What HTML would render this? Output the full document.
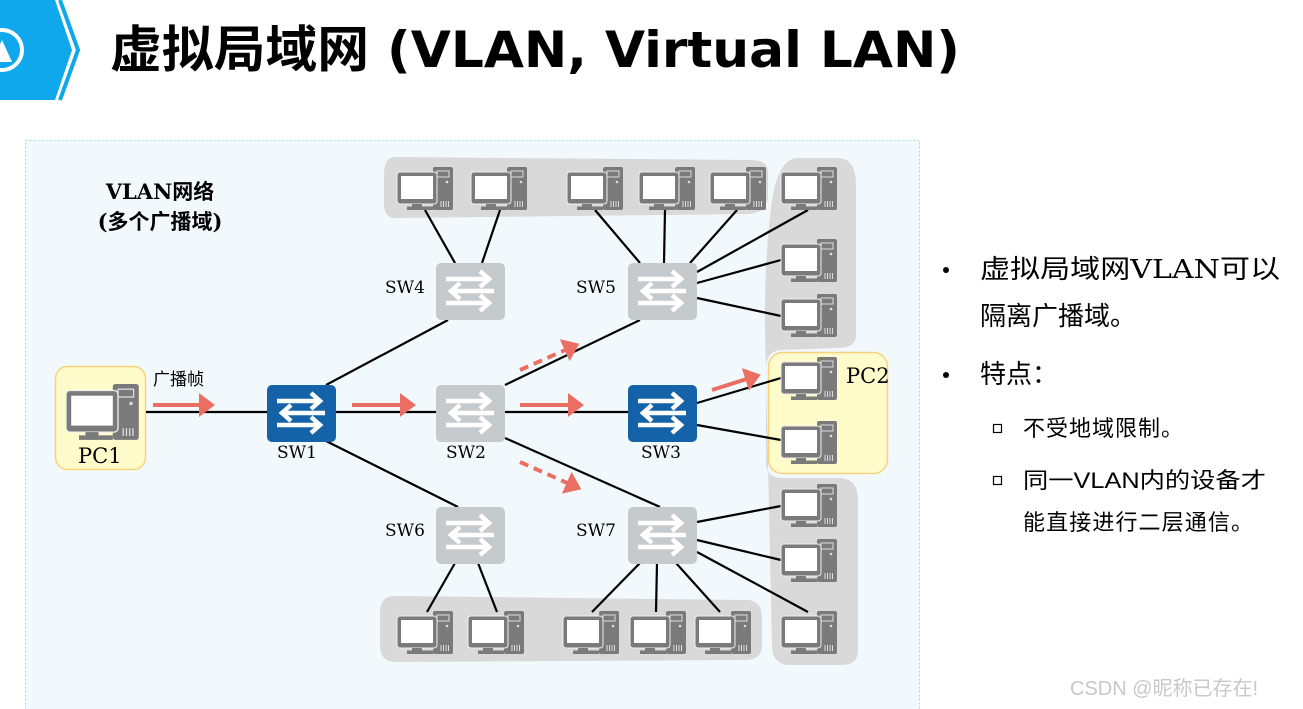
<!DOCTYPE html>
<html><head><meta charset="utf-8"><style>
html,body{margin:0;padding:0;background:#fff;width:1303px;height:709px;overflow:hidden}
svg{display:block}
</style></head><body>
<svg width="1303" height="709" viewBox="0 0 1303 709" xmlns="http://www.w3.org/2000/svg">
<defs>
<g id="pc">
<rect x="36" y="0" width="20" height="43" rx="2" fill="#7a7a7a"/>
<rect x="40" y="4" width="12" height="6" fill="none" stroke="#ddd" stroke-width="1"/>
<circle cx="50" cy="15" r="1.3" fill="#ddd"/>
<path d="M44 34v6M46.5 34v6M49 34v6M51.5 34v6" stroke="#ddd" stroke-width="1"/>
<rect x="0" y="5" width="40" height="32" rx="3" fill="#7a7a7a" stroke="#eee" stroke-width="1"/>
<rect x="4" y="9" width="32" height="23" fill="#fff"/>
<rect x="15" y="37" width="10" height="3" fill="#7a7a7a"/>
<rect x="10" y="39.5" width="26" height="3.5" fill="#7a7a7a"/>
</g>
<g id="arr" fill="none" stroke="#fff" stroke-width="4.5">
<path d="M10 16H52M44 8L53 16L44 24"/>
<path d="M58 28H16M24 20L15 28L24 36"/>
<path d="M10 40H52M44 32L53 40L44 48"/>
</g>
<g id="swg"><rect width="69" height="57" rx="5" fill="#c6cacd"/><use href="#arr"/></g>
<g id="swb"><rect width="69" height="57" rx="5" fill="#1462a8"/><use href="#arr"/></g>
<marker id="ah" markerWidth="6" markerHeight="6" refX="2" refY="3" orient="auto" markerUnits="strokeWidth"><path d="M0 0L4 3L0 6z" fill="#ea6f62"/></marker>
</defs>

<!-- header icon -->
<polygon points="0,0 55,0 72,50 55,100 0,100" fill="#10a8ec"/>
<polyline points="60,0 78,50 60,100" fill="none" stroke="#10a8ec" stroke-width="4"/>
<circle cx="2" cy="50" r="20" fill="none" stroke="#fff" stroke-width="4"/>
<polygon points="2,40 12,62 -8,62" fill="#fff"/>
<text x="110" y="67" textLength="850" lengthAdjust="spacingAndGlyphs" font-family="'DejaVu Sans','Noto Sans CJK SC',sans-serif" font-weight="bold" font-size="50" fill="#000">虚拟局域网 (VLAN, Virtual LAN)</text>

<!-- panel -->
<rect x="25.5" y="140.5" width="894" height="580" fill="#f2f9fd" stroke="#9fd7ee" stroke-dasharray="2,2"/>
<text x="160" y="199" text-anchor="middle" font-family="'DejaVu Serif','Noto Sans CJK SC',serif" font-weight="bold" font-size="21">VLAN网络</text>
<text x="160" y="229" text-anchor="middle" font-family="'DejaVu Serif','Noto Sans CJK SC',serif" font-weight="bold" font-size="21">(多个广播域)</text>

<!-- gray groups -->
<path d="M395 157 Q384 157 384 175 L384 205 Q384 220 400 218 L750 214 Q768 212 768 195 L768 172 Q768 160 750 160 Z" fill="#d9d9d9"/>
<path d="M795 158 L840 158 Q856 160 856 185 L856 335 Q856 348 838 348 L780 350 Q766 352 766 368 L766 462 Q766 478 782 478 L842 478 Q858 480 858 500 L858 650 Q858 665 842 665 L790 665 Q772 665 772 645 L765 330 Q764 260 772 200 Q778 162 795 158 Z" fill="#d9d9d9"/>
<path d="M395 596 L748 600 Q762 601 762 618 L762 645 Q762 660 745 660 L395 662 Q380 662 380 645 L380 612 Q380 596 395 596 Z" fill="#d9d9d9"/>

<!-- yellow boxes -->
<rect x="55.5" y="366.5" width="90" height="103" rx="12" fill="#fffbcb" stroke="#fbd17c" stroke-width="1.5"/>
<rect x="768.5" y="352.5" width="119" height="121" rx="14" fill="#fffbcb" stroke="#fbd17c" stroke-width="1.5"/>

<!-- connections -->
<g stroke="#000" stroke-width="2.2" fill="none">
<path d="M146 412H267M336 412H436M505 412H628"/>
<path d="M326 385L448 320M505 385L640 320M326 441L458 507M505 438L660 507"/>
<path d="M697 403L781 378M697 425L781 440"/>
<path d="M425 210L455 263M500 210L482 263"/>
<path d="M595 210L640 263M665 210L664 263M737 210L690 263M808 210L697 272M781 260L697 283M781 316L697 298"/>
<path d="M455 563L427 612M478 563L497 612"/>
<path d="M640 563L592 612M657 563L656 612M676 563L720 612M697 522L781 506M697 540L781 560M697 552L808 612"/>
</g>

<!-- PCs -->
<use href="#pc" transform="translate(66,384) scale(1.3)"/>
<use href="#pc" x="397" y="167"/><use href="#pc" x="471" y="167"/><use href="#pc" x="567" y="167"/><use href="#pc" x="639" y="167"/><use href="#pc" x="710" y="167"/><use href="#pc" x="781" y="167"/>
<use href="#pc" x="781" y="239"/><use href="#pc" x="781" y="294"/><use href="#pc" x="781" y="357"/><use href="#pc" x="781" y="421"/>
<use href="#pc" x="781" y="484"/><use href="#pc" x="781" y="539"/><use href="#pc" x="781" y="611"/>
<use href="#pc" x="397" y="611"/><use href="#pc" x="468" y="611"/><use href="#pc" x="563" y="611"/><use href="#pc" x="630" y="611"/><use href="#pc" x="695" y="611"/>

<!-- switches -->
<use href="#swb" x="267" y="385"/><use href="#swg" x="436" y="385"/><use href="#swb" x="628" y="385"/>
<use href="#swg" x="436" y="263"/><use href="#swg" x="628" y="263"/>
<use href="#swg" x="436" y="507"/><use href="#swg" x="628" y="507"/>

<g font-family="'DejaVu Serif','Liberation Serif',serif" font-size="17" fill="#000">
<text x="385" y="293">SW4</text><text x="576" y="293">SW5</text>
<text x="385" y="536">SW6</text><text x="576" y="536">SW7</text>
<text x="277" y="458">SW1</text><text x="446" y="458">SW2</text><text x="641" y="458">SW3</text>
<text x="78" y="463" font-size="21">PC1</text><text x="846" y="383" font-size="21">PC2</text>
</g>
<text x="153" y="385" font-family="'Noto Sans CJK SC',sans-serif" font-size="17">广播帧</text>

<!-- red arrows -->
<g stroke="#ea6f62" stroke-width="4" fill="none" marker-end="url(#ah)">
<path d="M153 405H207"/><path d="M352 405H408"/><path d="M520 405H576"/>
<path d="M712 390L753 377"/>
<path d="M520 370L572 347" stroke-dasharray="9,6"/>
<path d="M520 462L574 486" stroke-dasharray="9,6"/>
</g>

<!-- right text -->
<g font-family="'DejaVu Serif','Noto Sans CJK SC',sans-serif" fill="#000">
<circle cx="946" cy="270" r="3"/>
<text x="980" y="278" font-size="26" textLength="300" lengthAdjust="spacingAndGlyphs">虚拟局域网VLAN可以</text>
<text x="980" y="325" font-size="26">隔离广播域。</text>
<circle cx="946" cy="375" r="3"/>
<text x="980" y="383" font-size="26">特点：</text>
<rect x="993.5" y="424.5" width="8" height="8" fill="none" stroke="#000" stroke-width="1.2"/>
<text x="1023" y="436" font-size="22" textLength="160">不受地域限制。</text>
<rect x="993.5" y="476.5" width="8" height="8" fill="none" stroke="#000" stroke-width="1.2"/>
<text x="1023" y="488" font-size="22" textLength="243" lengthAdjust="spacingAndGlyphs" font-family="'Liberation Sans','Noto Sans CJK SC',sans-serif">同一VLAN内的设备才</text>
<text x="1023" y="530" font-size="22" textLength="230">能直接进行二层通信。</text>
</g>
<text x="1070" y="695" font-family="'Liberation Sans','Noto Sans CJK SC',sans-serif" font-size="20" fill="#c8c8c8">CSDN @昵称已存在!</text>
</svg>
</body></html>
